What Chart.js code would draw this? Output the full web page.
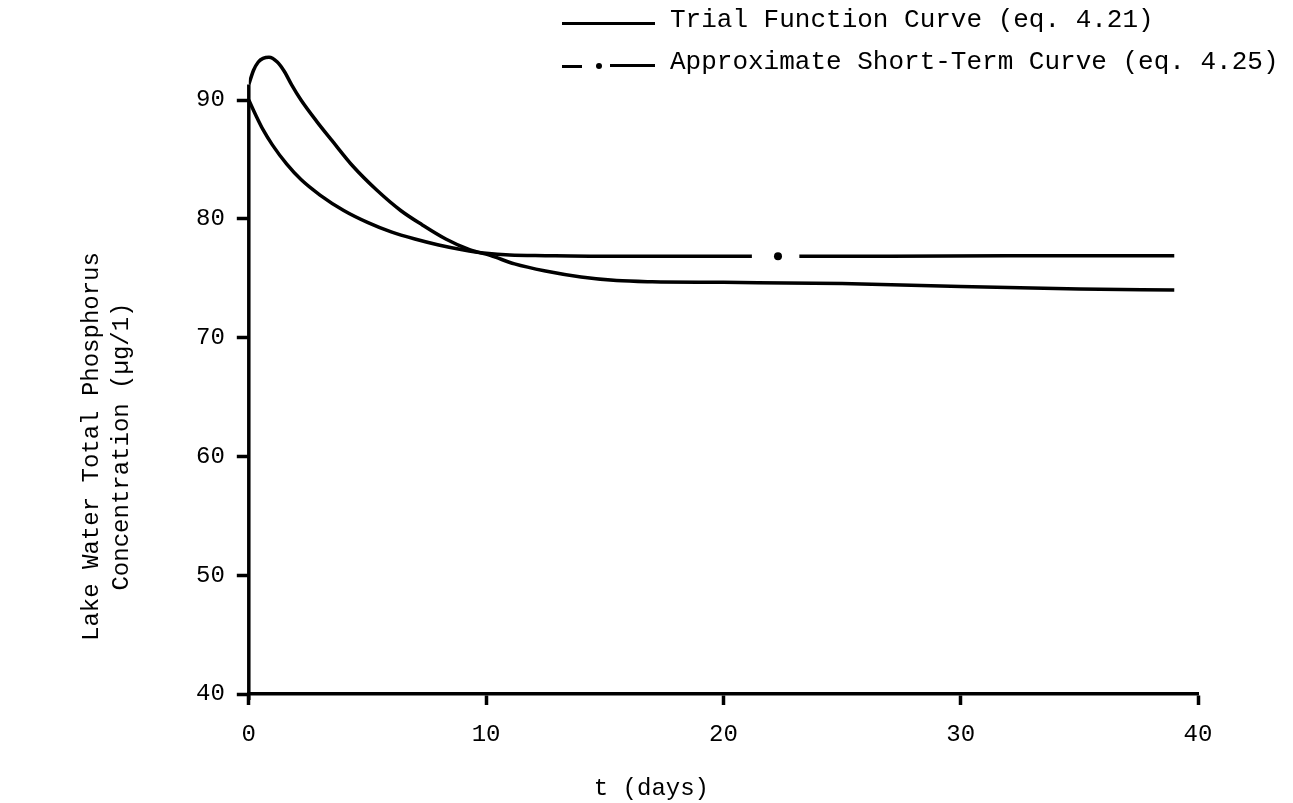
<!DOCTYPE html>
<html>
<head>
<meta charset="utf-8">
<script src="https://cdn.jsdelivr.net/npm/chart.js@4/dist/chart.umd.min.js"></script>
<style>
  html, body { margin: 0; padding: 0; background: #fff; }
  #wrap { position: relative; width: 1293px; height: 803px; }
  #legend { position: absolute; left: 0; top: 0; font-family: "Liberation Mono", monospace; font-size: 26px; color: #000; }
  .row { position: absolute; white-space: nowrap; height: 30px; line-height: 30px; }
  .txt { position: absolute; left: 110px; top: 0; }
  .seg { position: absolute; height: 3px; background: #000; }
  .dot { position: absolute; width: 6px; height: 6px; border-radius: 3px; background: #000; }
</style>
</head>
<body>
<div id="wrap">
  <canvas id="c" width="1293" height="803"></canvas>
  <div id="legend">
    <div class="row" style="left:560px; top:5px; width:740px;">
      <div class="seg" style="left:2px; top:17px; width:93px;"></div>
      <span class="txt">Trial Function Curve (eq. 4.21)</span>
    </div>
    <div class="row" style="left:560px; top:47px; width:740px;">
      <div class="seg" style="left:2px; top:18px; width:20px;"></div>
      <div class="dot" style="left:36px; top:16px;"></div>
      <div class="seg" style="left:50px; top:17px; width:45px;"></div>
      <span class="txt">Approximate Short-Term Curve (eq. 4.25)</span>
    </div>
  </div>
</div>
<script>
// ---- data ----
const trialT = [0, 0.2, 0.4, 0.6, 0.85, 1.2, 1.5, 1.8, 2.2, 2.9, 3.5, 4.4, 5.4, 6.4, 7.3, 8.3, 9.3, 10.2, 11.2, 12.5, 14, 15.5, 17, 20, 25, 30, 35, 39];
const trialC = [91.3, 92.5, 93.2, 93.5, 93.6, 93.2, 92.4, 91.3, 90.0, 88.1, 86.6, 84.4, 82.4, 80.7, 79.5, 78.3, 77.4, 76.9, 76.2, 75.6, 75.1, 74.8, 74.7, 74.65, 74.55, 74.3, 74.1, 74.0];

const approxT = [0, 0.3, 0.6, 1.0, 1.6, 2.2, 3.0, 4.0, 5.0, 6.0, 7.0, 8.0, 9.0, 10.0, 11.0, 12.5, 15, 18, 21.2, 22.3, 23.2, 27, 32, 39];
const approxC = [90, 88.7, 87.5, 86.2, 84.6, 83.3, 82.0, 80.7, 79.7, 78.9, 78.3, 77.8, 77.4, 77.1, 76.95, 76.9, 76.85, 76.85, 76.85, 76.85, 76.85, 76.85, 76.9, 76.9];
const approxDotIndex = 19; // isolated dot in the dash-dot curve

const xTickValues = [0, 10, 20, 30, 40];
const yTickValues = [40, 50, 60, 70, 80, 90];
const yAxisTopValue = 91.3;

const trialData = trialT.map((t, i) => ({ x: t, y: trialC[i] }));
const approxData = approxT.map((t, i) => ({ x: t, y: approxC[i] }));

const FONT = "'Liberation Mono', monospace";

const yAxisLine = {
  id: 'yAxisLine',
  afterDatasetsDraw(chart) {
    const { ctx, scales } = chart;
    const x = scales.x.getPixelForValue(0);
    ctx.save();
    ctx.strokeStyle = '#000';
    ctx.lineWidth = 3.5;
    ctx.beginPath();
    ctx.moveTo(x, scales.y.getPixelForValue(40) + 6);
    ctx.lineTo(x, scales.y.getPixelForValue(yAxisTopValue));
    ctx.stroke();
    ctx.restore();
  }
};

new Chart(document.getElementById('c'), {
  type: 'line',
  data: {
    datasets: [
      {
        label: 'Trial Function Curve (eq. 4.21)',
        data: trialData,
        borderColor: '#000',
        borderWidth: 3.5,
        pointRadius: 0,
        cubicInterpolationMode: 'monotone',
        fill: false
      },
      {
        label: 'Approximate Short-Term Curve (eq. 4.25)',
        data: approxData,
        borderColor: '#000',
        backgroundColor: '#000',
        borderWidth: 3.5,
        pointRadius: ctx => ctx.dataIndex === approxDotIndex ? 4 : 0,
        pointBorderWidth: 0,
        cubicInterpolationMode: 'monotone',
        fill: false,
        segment: {
          borderColor: ctx => (ctx.p0DataIndex === approxDotIndex - 1 || ctx.p0DataIndex === approxDotIndex) ? 'rgba(0,0,0,0)' : '#000'
        }
      }
    ]
  },
  options: {
    responsive: false,
    animation: false,
    layout: { padding: { left: 77, right: 95, top: 40.6, bottom: 0.4 } },
    plugins: { legend: { display: false }, tooltip: { enabled: false } },
    scales: {
      x: {
        type: 'linear',
        min: 0, max: 40,
        afterBuildTicks: s => { s.ticks = xTickValues.map(v => ({ value: v })); },
        ticks: { color: '#000', font: { family: FONT, size: 24 }, padding: 15, maxRotation: 0 },
        grid: { display: true, drawOnChartArea: false, drawTicks: true, tickLength: 11, tickWidth: 3.5, tickColor: '#000' },
        border: { display: true, color: '#000', width: 3.5 },
        title: {
          display: true,
          text: 't (days)          ',
          color: '#000',
          font: { family: FONT, size: 24, lineHeight: 1.2 },
          padding: { top: 10, bottom: 0 }
        }
      },
      y: {
        type: 'linear',
        min: 40, max: 95,
        afterBuildTicks: s => { s.ticks = yTickValues.map(v => ({ value: v })); },
        ticks: { color: '#000', font: { family: FONT, size: 24 }, padding: 12 },
        grid: { display: true, drawOnChartArea: false, drawTicks: true, tickLength: 12, tickWidth: 3.5, tickColor: '#000' },
        border: { display: false },
        title: {
          display: true,
          text: ['Lake Water Total Phosphorus           ', 'Concentration (µg/1)           '],
          color: '#000',
          font: { family: FONT, size: 24, lineHeight: 1.25 },
          padding: { top: 0, bottom: 47 }
        }
      }
    }
  },
  plugins: [yAxisLine]
});
</script>
</body>
</html>
